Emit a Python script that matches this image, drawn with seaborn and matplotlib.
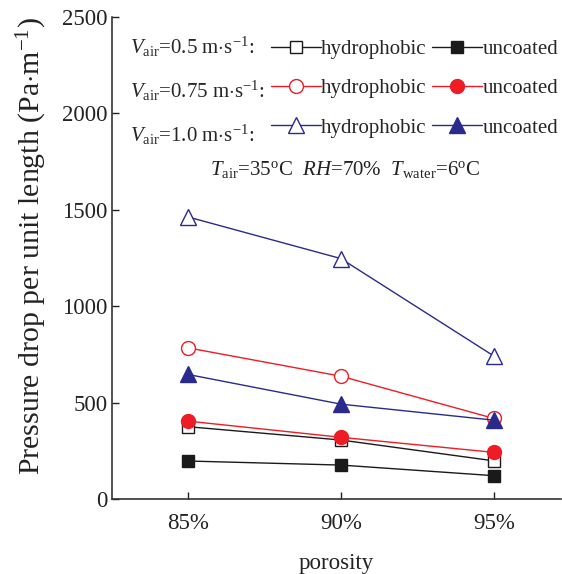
import numpy as np
import pandas as pd
import seaborn as sns
import matplotlib
matplotlib.use("Agg")
import matplotlib.pyplot as plt
from matplotlib.lines import Line2D

porosity = ["85%", "90%", "95%"]
hyd_05 = [375, 306, 198]
unc_05 = [197, 176, 121]
hyd_075 = [784, 637, 418]
unc_075 = [404, 320, 242]
hyd_10 = [1463, 1247, 742]
unc_10 = [646, 492, 409]

yticks = [0, 500, 1000, 1500, 2000, 2500]

sns.set_theme(style="ticks")
plt.rcParams["font.family"] = ["Liberation Serif", "DejaVu Serif"]
plt.rcParams["mathtext.fontset"] = "custom"
plt.rcParams["mathtext.rm"] = "Liberation Serif"
plt.rcParams["mathtext.it"] = "Liberation Serif:italic"

BLACK = "#1a1a1a"
RED = "#ee1c25"
BLUE = "#2a2a8c"

fig = plt.figure(figsize=(5.62, 5.74), dpi=100)
ax = fig.add_axes([112 / 562, 75 / 574, 449 / 562, 482 / 574])

series = [
    (hyd_05, BLACK, "s", False, 9),
    (unc_05, BLACK, "s", True, 9),
    (hyd_075, RED, "o", False, 10),
    (unc_075, RED, "o", True, 10),
    (hyd_10, BLUE, "^", False, 11),
    (unc_10, BLUE, "^", True, 11),
]
handles = {}
for vals, col, mk, filled, ms in series:
    df = pd.DataFrame({"porosity": porosity, "dp": vals})
    sns.lineplot(data=df, x="porosity", y="dp", ax=ax, color=col, marker=mk,
                 markersize=ms, markerfacecolor=col if filled else "white",
                 markeredgecolor=col, markeredgewidth=1.0, linewidth=1.0,
                 sort=False, legend=False)
    handles[(col, filled)] = Line2D([], [], color=col, marker=mk, markersize=ms,
                                    markerfacecolor=col if filled else "white",
                                    markeredgecolor=col, markeredgewidth=1.0,
                                    linewidth=1.0)

ax.set_xlim(-0.497, 2.44)
ax.set_ylim(0, 2500)
ax.set_yticks(yticks)
ax.set_yticklabels([str(t) for t in yticks])
ax.tick_params(axis="both", direction="in", length=5, width=1.0,
               labelsize=16.5, colors="#222222")
ax.tick_params(axis="y", pad=3)
ax.tick_params(axis="x", pad=10)
for s in ["top", "right"]:
    ax.spines[s].set_visible(False)
for s in ["left", "bottom"]:
    ax.spines[s].set_linewidth(1.2)
    ax.spines[s].set_color("#333333")

ax.set_xlabel("porosity", fontsize=16.5, labelpad=14, color="#222222")
ax.set_ylabel(r"Pressure drop per unit length (Pa$\cdot$m$^{-1}$)", fontsize=21.5,
              color="#222222")
ax.yaxis.set_label_coords(-0.140, 0.525)

blank = Line2D([], [], linestyle="none")
labels = [r"$V_{\mathrm{air}}$=0.5 m$\cdot$s$^{-1}$:",
          r"$V_{\mathrm{air}}$=0.75 m$\cdot$s$^{-1}$:",
          r"$V_{\mathrm{air}}$=1.0 m$\cdot$s$^{-1}$:",
          "hydrophobic", "hydrophobic", "hydrophobic",
          "uncoated", "uncoated", "uncoated"]
hs = [blank, blank, blank,
      handles[(BLACK, False)], handles[(RED, False)], handles[(BLUE, False)],
      handles[(BLACK, True)], handles[(RED, True)], handles[(BLUE, True)]]
leg = ax.legend(hs, labels, ncol=3, frameon=False, fontsize=15,
                handlelength=2.4, handletextpad=0.0, columnspacing=0.3,
                labelspacing=0.95, borderpad=0, borderaxespad=0,
                loc="upper right", bbox_to_anchor=(558 / 562, (574 - 35) / 574),
                bbox_transform=fig.transFigure)
ax.text(0.52, 1 - (170 - 17) / 482,
        r"$T_{\mathrm{air}}$=35$^{\mathrm{o}}$C  $RH$=70%  $T_{\mathrm{water}}$=6$^{\mathrm{o}}$C",
        transform=ax.transAxes, ha="center", va="center", fontsize=15,
        color="#222222")

fig.savefig("out.png", dpi=100)
